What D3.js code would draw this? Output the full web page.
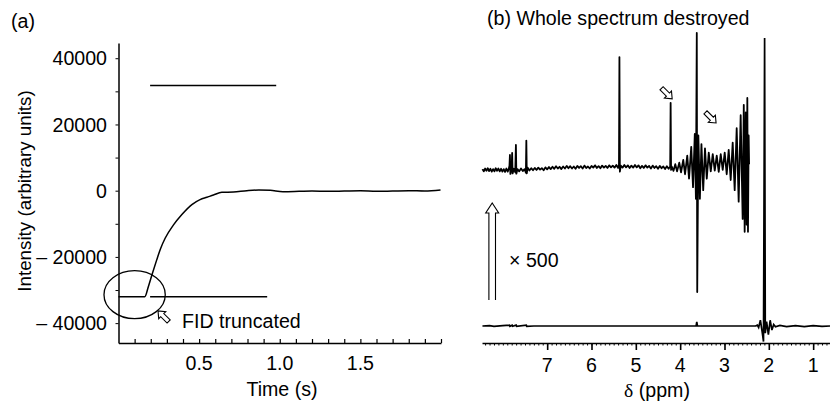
<!DOCTYPE html>
<html>
<head>
<meta charset="utf-8">
<script src="https://cdn.jsdelivr.net/npm/d3@7"></script>
<style>
  body { margin: 0; background: #fff; }
  text { font-family: "Liberation Sans", Arial, sans-serif; fill: #000; }
</style>
</head>
<body>
<svg id="chart"></svg>
<script>
const width = 830;
const height = 406;

// (a) FID, time in s, intensity in arbitrary units
const fidTime = [0, 0.163, 0.185, 0.21, 0.237, 0.26, 0.29, 0.34, 0.393, 0.455, 0.506, 0.548, 0.589, 0.641, 0.713, 0.796, 0.87, 0.941, 1.02, 1.12, 1.2, 1.3, 1.4, 1.5, 1.6, 1.7, 1.8, 1.9, 1.997];
const fidValue = [-32000, -32000, -29000, -25000, -20900, -17600, -14300, -10400, -7200, -4200, -2700, -2000, -1300, -500, -400, 0, 200, 100, -300, -200, -100, -200, -100, 0, -200, -100, 0, -100, 200];
const adcLimits = [
  { t0: 0.196, t1: 0.978, v: 31800 },
  { t0: 0.196, t1: 0.922, v: -32000 }
];
const timeTicks = [0.5, 1.0, 1.5];
const intensityTicks = [-40000, -20000, 0, 20000, 40000];

// (b) spectra: [ppm, intensity]; upper trace is the x500 expansion
const upperTrace = [
  [8.46, 0.3], [8.43, -0.5], [8.40, 0.5], [8.37, -0.3], [8.34, 0.6], [8.31, -0.4], [8.28, 0.4], [8.25, -0.6],
  [8.22, 0.3], [8.19, -0.5], [8.16, 0.6], [8.13, -0.3], [8.10, 0.5], [8.07, -0.5], [8.04, 0.4], [8.01, -0.6],
  [7.98, 0.3], [7.95, -0.7], [7.92, 0.5], [7.89, -0.6], [7.87, 0.2],
  [7.85, 1.5], [7.84, 5.2], [7.83, -1.4], [7.80, 1.0], [7.79, 5.9], [7.78, -1.2], [7.75, 0.4], [7.72, -0.8],
  [7.705, 8.7], [7.695, -1.3], [7.67, 0.3], [7.63, -0.5], [7.59, 0.5], [7.55, -0.4], [7.51, 0.3], [7.48, -1.0],
  [7.47, 10.2], [7.46, -1.2], [7.44, 0.8], [7.40, -0.2],
  [7.36, 0.6], [7.32, -0.1], [7.28, 0.7], [7.24, 0.0], [7.20, 0.8], [7.16, 0.1], [7.12, 0.6], [7.08, -0.1],
  [7.04, 0.9], [7.00, 0.2], [6.96, 1.0], [6.92, 0.3], [6.88, 1.1], [6.84, 0.4], [6.80, 1.3], [6.76, 0.5],
  [6.72, 1.1], [6.68, 0.3], [6.64, 1.2], [6.60, 0.5], [6.56, 1.4], [6.52, 0.6], [6.48, 1.3], [6.44, 0.5],
  [6.40, 1.2], [6.36, 0.4], [6.32, 1.4], [6.28, 0.7], [6.24, 1.3], [6.20, 0.5], [6.16, 1.5], [6.12, 0.7],
  [6.08, 1.2], [6.04, 0.5], [6.00, 1.4], [5.96, 0.8], [5.92, 1.6], [5.88, 0.7], [5.84, 1.3], [5.80, 0.6],
  [5.76, 1.5], [5.72, 0.8], [5.68, 1.4], [5.64, 0.7], [5.60, 1.6], [5.56, 0.9], [5.52, 1.5], [5.48, 0.8],
  [5.44, 1.7], [5.40, 0.7], [5.38, 1.8], [5.37, 39.2], [5.36, -0.6], [5.34, 1.5],
  [5.30, 0.8], [5.26, 1.7], [5.22, 0.9], [5.18, 1.6], [5.14, 0.7], [5.10, 1.5], [5.06, 0.8], [5.02, 1.7],
  [4.98, 0.9], [4.94, 1.6], [4.90, 0.6], [4.86, 1.4], [4.82, 0.7], [4.78, 1.6], [4.74, 0.8], [4.70, 1.4],
  [4.66, 0.5], [4.62, 1.5], [4.58, 0.7], [4.54, 1.3], [4.50, 0.4], [4.46, 1.4], [4.42, 0.6], [4.38, 1.2],
  [4.34, 0.3], [4.30, 1.3], [4.26, 0.4], [4.24, 0.9],
  [4.225, 1.0], [4.215, 23.3], [4.205, 0.0], [4.19, 1.2],
  [4.15, -0.3], [4.11, 2.0], [4.07, -0.5], [4.02, 2.5], [3.98, -0.8], [3.93, 3.5], [3.89, -1.5], [3.84, 5.0],
  [3.80, -3.0], [3.75, 8.0], [3.71, -6.0], [3.67, 12.5], [3.645, -10.0], [3.625, 47.6], [3.615, -42.4], [3.59, 12.0],
  [3.555, -10.0], [3.52, 9.0], [3.48, -7.0], [3.44, 7.5], [3.40, -3.0], [3.355, 6.0], [3.31, -0.5], [3.265, 5.5],
  [3.22, -0.2], [3.175, 5.0], [3.13, -0.7], [3.085, 5.5], [3.04, 0.0], [2.995, 6.0], [2.95, -1.5], [2.905, 7.0],
  [2.86, -3.5], [2.815, 9.5], [2.77, -7.0], [2.725, 14.5], [2.68, -11.0], [2.635, 19.0], [2.59, -17.0], [2.565, 22.6],
  [2.545, -21.5], [2.52, 20.0], [2.50, -19.0], [2.485, 25.0], [2.47, -21.5], [2.455, 12.0], [2.445, 2.0]
];
const lowerTrace = [
  [8.46, 0], [8.30, 0.1], [8.20, -0.1], [8.00, 0.1], [7.85, 0.3], [7.84, -0.1], [7.79, 0.3], [7.78, -0.1],
  [7.70, 0.3], [7.69, -0.1], [7.47, 0.3], [7.46, -0.1], [7.30, 0], [5.00, 0], [3.64, 0], [3.625, 1.4], [3.61, 0],
  [2.30, 0], [2.26, 0.3], [2.23, -0.5], [2.19, 2.0], [2.15, -2.0], [2.12, -5.4], [2.095, 100], [2.08, -2.5],
  [2.05, 1.5], [2.01, -3.0], [1.97, 2.0], [1.93, -1.4], [1.89, 0.5], [1.85, -0.3], [1.75, 0.2], [1.60, -0.2],
  [1.40, 0.1], [1.20, -0.2], [1.00, 0.1], [0.80, -0.1], [0.62, 0]
];
const ppmTicks = [7, 6, 5, 4, 3, 2, 1];

const svg = d3.select("#chart").attr("width", width).attr("height", height);
const fs = 19.6;

// ---------- panel (a) ----------
const xA = d3.scaleLinear().domain([0, 2.0]).range([118.5, 441]);
const yA = d3.scaleLinear().domain([-46000, 44600]).range([343, 43]);

const gA = svg.append("g");

gA.append("g")
  .attr("transform", `translate(0,${yA.range()[0]})`)
  .call(d3.axisBottom(xA).tickValues(d3.range(1, 21).map((d) => d / 10)).tickSizeInner(-4).tickSizeOuter(0).tickFormat(""))
  .call((g) => g.select(".domain").attr("stroke-width", 1.5))
  .call((g) => g.selectAll(".tick line").attr("stroke-width", 1.2));

gA.selectAll(".tlabel")
  .data(timeTicks)
  .enter()
  .append("text")
  .attr("x", (d) => xA(d))
  .attr("y", 370)
  .attr("text-anchor", "middle")
  .attr("font-size", fs)
  .text((d) => d.toFixed(1));

gA.append("g")
  .attr("transform", `translate(${xA.range()[0]},0)`)
  .call(d3.axisLeft(yA).tickValues(d3.range(-40000, 40001, 10000)).tickSize(3).tickSizeOuter(0).tickFormat(""))
  .call((g) => g.select(".domain").attr("stroke-width", 1.5));

gA.selectAll(".ilabel")
  .data(intensityTicks)
  .enter()
  .append("text")
  .attr("x", 107)
  .attr("y", (d) => yA(d))
  .attr("dy", "0.36em")
  .attr("text-anchor", "end")
  .attr("font-size", fs)
  .text((d) => (d < 0 ? "\u2013 " + Math.abs(d) : d));

gA.append("text")
  .attr("transform", `translate(31,${(yA.range()[0] + yA.range()[1]) / 2 - 2}) rotate(-90)`)
  .attr("text-anchor", "middle")
  .attr("font-size", 18.8)
  .text("Intensity (arbitrary units)");

gA.append("text").attr("x", 282).attr("y", 396).attr("text-anchor", "middle").attr("font-size", fs).text("Time (s)");
gA.append("text").attr("x", 11).attr("y", 28).attr("font-size", fs).text("(a)");

gA.selectAll(".adc")
  .data(adcLimits)
  .enter()
  .append("line")
  .attr("x1", (d) => xA(d.t0))
  .attr("x2", (d) => xA(d.t1))
  .attr("y1", (d) => yA(d.v))
  .attr("y2", (d) => yA(d.v))
  .attr("stroke", "#000")
  .attr("stroke-width", 1.5);

const fid = fidTime.map((t, i) => [t, fidValue[i]]);
gA.append("path")
  .datum(fid)
  .attr("fill", "none")
  .attr("stroke", "#000")
  .attr("stroke-width", 1.5)
  .attr("d", d3.line().curve(d3.curveMonotoneX).x((d) => xA(d[0])).y((d) => yA(d[1])));

// circle around truncation point
gA.append("ellipse")
  .attr("cx", xA(0.1))
  .attr("cy", yA(-31400))
  .attr("rx", xA(0.19) - xA(0))
  .attr("ry", yA(-7250) - yA(0))
  .attr("fill", "none")
  .attr("stroke", "#000")
  .attr("stroke-width", 1.3);

function hollowArrow(g, x, y, angle, len, headLen, headW, shaftW, open) {
  const p = d3.path();
  p.moveTo(shaftW, len);
  p.lineTo(shaftW, headLen);
  p.lineTo(headW, headLen);
  p.lineTo(0, 0);
  p.lineTo(-headW, headLen);
  p.lineTo(-shaftW, headLen);
  p.lineTo(-shaftW, len);
  if (!open) p.closePath();
  g.append("path")
    .attr("d", p.toString())
    .attr("transform", `translate(${x},${y}) rotate(${angle})`)
    .attr("fill", "#fff")
    .attr("stroke", "#000")
    .attr("stroke-width", 1.1)
    .attr("stroke-linejoin", "miter");
}

hollowArrow(gA, xA(0.245), yA(-36300), -45, 15, 6, 5, 2.2, false);
gA.append("text").attr("x", 182).attr("y", 328).attr("font-size", fs).text("FID truncated");

// ---------- panel (b) ----------
const xB = d3.scaleLinear().domain([8.47, 0.62]).range([482, 830]);
const yB = d3.scaleLinear().domain([-5.9, 102.8]).range([343, 30]);
const upperOffset = 54.2;

const gB = svg.append("g");

gB.append("g")
  .attr("transform", `translate(0,${yB.range()[0]})`)
  .call(d3.axisBottom(xB).tickValues(d3.range(7, 85).map((d) => d / 10)).tickSize(2.5).tickSizeOuter(0).tickFormat(""))
  .call((g) => g.select(".domain").attr("stroke-width", 1.5));

gB.append("g")
  .attr("transform", `translate(0,${yB.range()[0]})`)
  .call(d3.axisBottom(xB).tickValues(ppmTicks).tickSize(7).tickSizeOuter(0).tickFormat(""))
  .call((g) => g.select(".domain").remove())
  .call((g) => g.selectAll(".tick line").attr("stroke-width", 1.6));

gB.selectAll(".plabel")
  .data(ppmTicks)
  .enter()
  .append("text")
  .attr("x", (d) => xB(d))
  .attr("y", 372)
  .attr("text-anchor", "middle")
  .attr("font-size", fs)
  .text((d) => d);

const delta = gB.append("text").attr("x", 657).attr("y", 397).attr("text-anchor", "middle").attr("font-size", fs);
delta.append("tspan").attr("font-family", "'Liberation Serif', 'DejaVu Serif', serif").text("\u03b4");
delta.append("tspan").text(" (ppm)");

gB.append("text").attr("x", 487).attr("y", 25).attr("font-size", fs).text("(b) Whole spectrum destroyed");

gB.append("path")
  .datum(lowerTrace)
  .attr("fill", "none")
  .attr("stroke", "#000")
  .attr("stroke-width", 1.7)
  .attr("d", d3.line().x((d) => xB(d[0])).y((d) => yB(d[1])));

gB.append("path")
  .datum(upperTrace)
  .attr("fill", "none")
  .attr("stroke", "#000")
  .attr("stroke-width", 1.8)
  .attr("stroke-linejoin", "round")
  .attr("d", d3.line().x((d) => xB(d[0])).y((d) => yB(d[1] + upperOffset)));

// x500 marker
hollowArrow(gB, xB(8.24), 203, 0, 97, 10, 6.5, 3.3, true);
gB.append("text").attr("x", 509).attr("y", 267).attr("font-size", fs).text("\u00d7 500");

hollowArrow(gB, xB(4.18), yB(24.7 + upperOffset), 135, 15, 6, 5, 2.2, false);
hollowArrow(gB, xB(3.19), yB(16.3 + upperOffset), 135, 15, 6, 5, 2.2, false);
</script>
</body>
</html>
